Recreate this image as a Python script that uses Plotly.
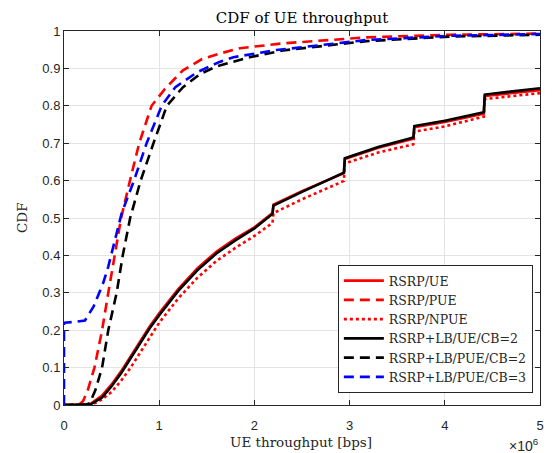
import plotly.graph_objects as go

# ---- data (x in bps) ----
x_rsrp_ue = [0, 0.2e6, 0.28e6, 0.4e6, 0.5e6, 0.6e6, 0.7e6, 0.8e6, 0.9e6, 1.0e6, 1.2e6, 1.4e6, 1.6e6, 1.8e6, 2.0e6, 2.19e6, 2.2e6, 2.5e6, 2.94e6, 2.95e6, 3.3e6, 3.67e6, 3.68e6, 4.0e6, 4.41e6, 4.42e6, 5.0e6]
y_rsrp_ue = [0, 0, 0.003, 0.025, 0.055, 0.09, 0.13, 0.17, 0.21, 0.245, 0.31, 0.365, 0.41, 0.445, 0.475, 0.513, 0.536, 0.572, 0.62, 0.658, 0.688, 0.712, 0.743, 0.757, 0.779, 0.826, 0.842]

x_rsrp_pue = [0, 0.15e6, 0.2e6, 0.25e6, 0.32e6, 0.4e6, 0.465e6, 0.535e6, 0.6e6, 0.693e6, 0.79e6, 0.92e6, 1.06e6, 1.25e6, 1.45e6, 1.64e6, 1.85e6, 2.3e6, 3.18e6, 4.05e6, 5.0e6]
y_rsrp_pue = [0, 0, 0.01, 0.04, 0.1, 0.2, 0.3, 0.4, 0.5, 0.6, 0.7, 0.8, 0.845, 0.895, 0.925, 0.94, 0.954, 0.967, 0.983, 0.99, 0.993]

x_rsrp_npue = [0, 0.2e6, 0.3e6, 0.4e6, 0.5e6, 0.6e6, 0.7e6, 0.8e6, 0.9e6, 1.0e6, 1.2e6, 1.4e6, 1.6e6, 1.8e6, 2.0e6, 2.19e6, 2.2e6, 2.5e6, 2.94e6, 2.95e6, 3.3e6, 3.67e6, 3.68e6, 4.0e6, 4.41e6, 4.42e6, 5.0e6]
y_rsrp_npue = [0, 0, 0.002, 0.015, 0.035, 0.065, 0.1, 0.14, 0.18, 0.22, 0.285, 0.34, 0.385, 0.42, 0.452, 0.487, 0.513, 0.55, 0.599, 0.646, 0.675, 0.697, 0.731, 0.745, 0.771, 0.818, 0.834]

x_lb_ue_cb2 = [0, 0.2e6, 0.28e6, 0.4e6, 0.5e6, 0.6e6, 0.7e6, 0.8e6, 0.9e6, 1.0e6, 1.2e6, 1.4e6, 1.6e6, 1.8e6, 2.0e6, 2.19e6, 2.2e6, 2.5e6, 2.94e6, 2.95e6, 3.3e6, 3.67e6, 3.68e6, 4.0e6, 4.41e6, 4.42e6, 5.0e6]
y_lb_ue_cb2 = [0, 0, 0.002, 0.02, 0.05, 0.085, 0.125, 0.165, 0.205, 0.24, 0.305, 0.36, 0.405, 0.44, 0.472, 0.511, 0.533, 0.57, 0.621, 0.66, 0.69, 0.715, 0.746, 0.76, 0.783, 0.83, 0.847]

x_lb_pue_cb2 = [0, 0.22e6, 0.27e6, 0.33e6, 0.4e6, 0.465e6, 0.553e6, 0.617e6, 0.695e6, 0.805e6, 0.94e6, 1.08e6, 1.25e6, 1.43e6, 1.6e6, 1.95e6, 2.3e6, 3.18e6, 4.05e6, 5.0e6]
y_lb_pue_cb2 = [0, 0, 0.005, 0.04, 0.1, 0.2, 0.3, 0.4, 0.5, 0.6, 0.7, 0.8, 0.85, 0.885, 0.905, 0.93, 0.948, 0.973, 0.985, 0.99]

x_lb_pue_cb3 = [0, 0, 0.1e6, 0.22e6, 0.31e6, 0.41e6, 0.465e6, 0.535e6, 0.606e6, 0.735e6, 0.868e6, 1.026e6, 1.17e6, 1.4e6, 1.64e6, 1.78e6, 2.23e6, 3.18e6, 4.05e6, 5.0e6]
y_lb_pue_cb3 = [0, 0.22, 0.222, 0.226, 0.263, 0.325, 0.37, 0.441, 0.513, 0.6, 0.7, 0.8, 0.85, 0.89, 0.918, 0.93, 0.949, 0.976, 0.987, 0.992]

series_names = ["RSRP/UE", "RSRP/PUE", "RSRP/NPUE", "RSRP+LB/UE/CB=2", "RSRP+LB/PUE/CB=2", "RSRP+LB/PUE/CB=3"]
x_ticks = [0, 1e6, 2e6, 3e6, 4e6, 5e6]
x_tick_labels = ["0", "1", "2", "3", "4", "5"]
y_ticks = [0, 0.1, 0.2, 0.3, 0.4, 0.5, 0.6, 0.7, 0.8, 0.9, 1]
y_tick_labels = ["0", "0.1", "0.2", "0.3", "0.4", "0.5", "0.6", "0.7", "0.8", "0.9", "1"]

SERIF = "DejaVu Serif, Liberation Serif, serif"
SANS = "Liberation Sans, Arial, sans-serif"
AX = "#262626"

styles = [
    ("#ff0000", "solid"),
    ("#ff0000", "10px,6px"),
    ("#ff0000", "dot"),
    ("#000000", "solid"),
    ("#000000", "10px,6px"),
    ("#0000ff", "10px,6px"),
]
data = [
    (x_rsrp_ue, y_rsrp_ue),
    (x_rsrp_pue, y_rsrp_pue),
    (x_rsrp_npue, y_rsrp_npue),
    (x_lb_ue_cb2, y_lb_ue_cb2),
    (x_lb_pue_cb2, y_lb_pue_cb2),
    (x_lb_pue_cb3, y_lb_pue_cb3),
]

fig = go.Figure()
for name, (xs, ys), (col, dash) in zip(series_names, data, styles):
    fig.add_trace(go.Scatter(x=xs, y=ys, mode="lines", name=name,
                             line=dict(color=col, width=2.6, dash=dash)))

axis_common = dict(showline=True, linecolor=AX, linewidth=1, mirror="ticks",
                   ticks="inside", ticklen=5, tickcolor=AX, automargin=False,
                   showgrid=True, gridcolor="#e3e3e3", gridwidth=1,
                   zeroline=False, tickfont=dict(family=SANS, size=13, color=AX))

PLOT_H = 453 - 31 - 48
PLOT_W = 553 - 64 - 13

fig.update_layout(
    width=553, height=453,
    margin=dict(l=64, r=13, t=31, b=48),
    paper_bgcolor="white", plot_bgcolor="white",
    title=dict(text="CDF of UE throughput", xref="paper", x=0.5, xanchor="center",
               y=1 - 18 / 453, yanchor="middle",
               font=dict(family=SERIF, size=15, color="black")),
    xaxis=dict(range=[0, 5e6], tickvals=x_ticks, ticktext=x_tick_labels,
               ticklabelstandoff=8, **axis_common),
    yaxis=dict(range=[0, 1], tickvals=y_ticks, ticktext=y_tick_labels,
               **axis_common),
    legend=dict(x=0.985, y=0.032, xanchor="right", yanchor="bottom",
                bgcolor="white", bordercolor=AX, borderwidth=1,
                font=dict(family=SERIF, size=12.5, color=AX),
                tracegroupgap=0, itemwidth=40),
    showlegend=True,
)
# axis titles
fig.add_annotation(text="UE throughput [bps]", xref="paper", yref="paper",
                   x=(301 - 64) / PLOT_W, y=-(442 - 405) / PLOT_H,
                   xanchor="center", yanchor="middle", showarrow=False, borderpad=0,
                   font=dict(family=SERIF, size=13.5, color=AX))
fig.add_annotation(text="CDF", xref="paper", yref="paper", textangle=-90,
                   x=-(64 - 22) / PLOT_W, y=0.5,
                   xanchor="center", yanchor="middle", showarrow=False,
                   font=dict(family=SERIF, size=13.5, color=AX))
fig.add_annotation(text="×10<sup>6</sup>", xref="paper", yref="paper",
                   x=(524 - 64) / PLOT_W, y=-(445 - 405) / PLOT_H,
                   xanchor="center", yanchor="middle",
                   showarrow=False,
                   font=dict(family=SANS, size=14, color=AX))

fig.write_html("out.html")
